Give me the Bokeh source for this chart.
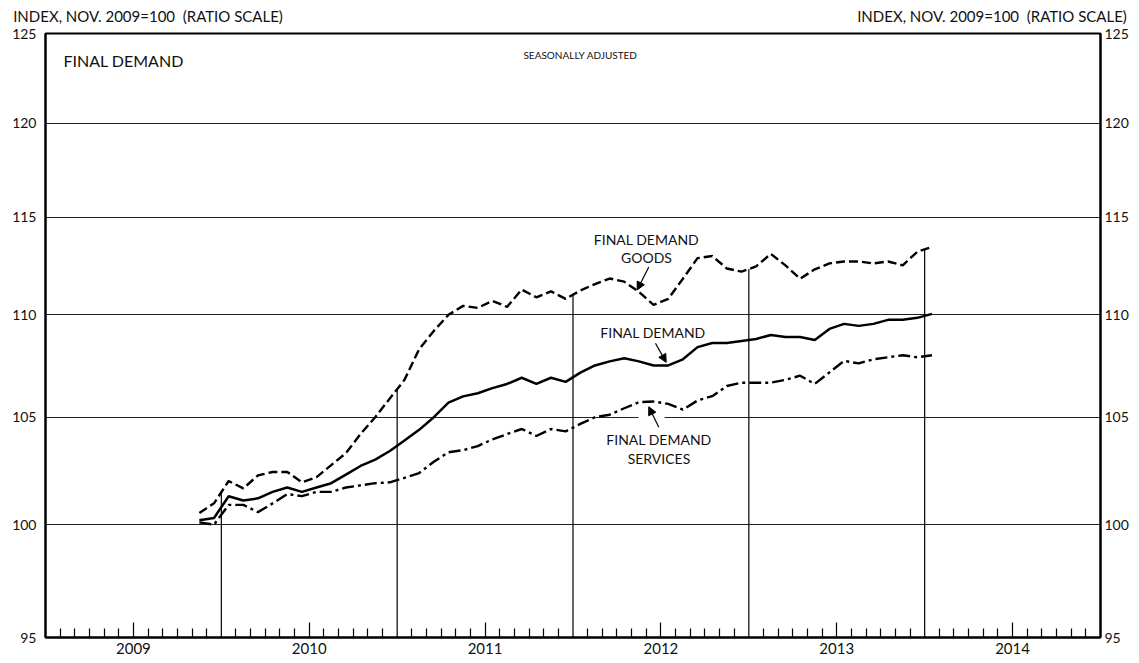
import numpy as np
import pandas as pd
from bokeh.plotting import figure
from bokeh.models import (LogAxis, LinearAxis, FixedTicker, PrintfTickFormatter, Label, Arrow,
                          NormalHead, Range1d)
from bokeh.embed import file_html
from bokeh.resources import INLINE

# ---------------- data ----------------
months = pd.date_range("2009-11-01", "2014-01-01", freq="MS")

final_demand = [100.2, 100.3,
                101.3, 101.1, 101.2, 101.5, 101.7, 101.5, 101.7, 101.9, 102.3, 102.7, 103.0, 103.4,
                103.9, 104.4, 105.0, 105.7, 106.0, 106.15, 106.4, 106.6, 106.9, 106.6, 106.9, 106.7,
                107.15, 107.5, 107.7, 107.85, 107.7, 107.5, 107.5, 107.8, 108.4, 108.6, 108.6, 108.7,
                108.8, 109.0, 108.9, 108.9, 108.75, 109.3, 109.55, 109.45, 109.55, 109.75, 109.75, 109.85,
                110.05]

goods = [100.53, 100.97,
         102.0, 101.66, 102.26, 102.42, 102.42, 101.94, 102.18, 102.74, 103.3, 104.2, 105.0, 105.9,
         106.8, 108.3, 109.2, 110.0, 110.45, 110.35, 110.7, 110.4, 111.27, 110.88, 111.18, 110.8,
         111.22, 111.55, 111.83, 111.67, 111.15, 110.5, 110.8, 111.82, 112.87, 112.98, 112.34, 112.18,
         112.45, 113.09, 112.5, 111.82, 112.3, 112.6, 112.7, 112.7, 112.6, 112.7, 112.5, 113.2,
         113.45]

services = [100.1, 100.0,
            100.9, 100.9, 100.57, 100.97, 101.4, 101.3, 101.5, 101.5, 101.7, 101.8, 101.9, 101.94,
            102.15, 102.37, 102.9, 103.34, 103.44, 103.63, 103.95, 104.2, 104.44, 104.11, 104.44, 104.33,
            104.68, 105.0, 105.12, 105.43, 105.72, 105.75, 105.64, 105.36, 105.8, 106.01, 106.5, 106.66,
            106.66, 106.66, 106.8, 107.0, 106.6, 107.16, 107.72, 107.6, 107.8, 107.9, 108.0, 107.9,
            108.0]

y_ticks = [95, 100, 105, 110, 115, 120, 125]
grid_levels = [100, 105, 110, 115, 120]
years = [2009, 2010, 2011, 2012, 2013, 2014]
drop_years = [2010, 2011, 2012, 2013, 2014]
header_text = "INDEX, NOV. 2009=100\u00a0 (RATIO SCALE)"
header_pos = [2009.583, 2014.383]   # centres of the two scale captions (years)

FONT = "Lato"

x = np.array(months.year + (months.month - 0.5) / 12.0)

p = figure(width=1139, height=663, x_range=Range1d(2009, 2015), y_range=Range1d(95, 125),
           y_axis_type="log", output_backend="svg", toolbar_location=None,
           min_border_left=45, min_border_right=39, min_border_top=33, min_border_bottom=26)
p.background_fill_color = "white"
p.border_fill_color = "white"
p.outline_line_color = "black"
p.outline_line_width = 2

bottom_axis = p.below[0]
left_axis = p.left[0]

def style_y(ax, standoff):
    ax.ticker = FixedTicker(ticks=y_ticks, minor_ticks=[])
    ax.formatter = PrintfTickFormatter(format="%d")
    ax.major_tick_in = 0
    ax.major_tick_out = 0
    ax.minor_tick_in = 0
    ax.minor_tick_out = 0
    ax.axis_line_width = 2
    ax.axis_line_color = "black"
    ax.major_label_standoff = standoff
    ax.major_label_text_font = FONT
    ax.major_label_text_font_size = "14px"
    ax.major_label_text_color = "#111111"

style_y(left_axis, 9)
right_axis = LogAxis()
style_y(right_axis, 4)
p.add_layout(right_axis, "right")

# bottom axis: month ticks, taller mid-year tick, year names
mid_years = [y + 0.5 for y in years]
month_ticks = [y + k / 12.0 for y in years for k in range(1, 12) if k != 6]
xa = bottom_axis
xa.ticker = FixedTicker(ticks=mid_years, minor_ticks=month_ticks)
xa.major_label_overrides = {m: str(y) for m, y in zip(mid_years, years)}
xa.major_tick_in = 15
xa.major_tick_out = 0
xa.minor_tick_in = 9
xa.minor_tick_out = 0
xa.major_tick_line_width = 1.2
xa.minor_tick_line_width = 1.2
xa.major_tick_line_color = "black"
xa.minor_tick_line_color = "black"
xa.axis_line_width = 2
xa.axis_line_color = "black"
xa.major_label_text_font = FONT
xa.major_label_text_font_size = "15px"
xa.major_label_text_color = "#111111"
xa.major_label_standoff = 5

# top: scale captions carried as labels of an axis above the frame
top_axis = LinearAxis()
top_axis.ticker = FixedTicker(ticks=header_pos, minor_ticks=[])
top_axis.major_label_overrides = {hp: header_text for hp in header_pos}
top_axis.major_tick_in = 0
top_axis.major_tick_out = 0
top_axis.minor_tick_in = 0
top_axis.minor_tick_out = 0
top_axis.axis_line_color = None
top_axis.major_label_standoff = 9
top_axis.major_label_text_font = FONT
top_axis.major_label_text_font_size = "15px"
top_axis.major_label_text_color = "#111111"
p.add_layout(top_axis, "above")

p.xgrid.visible = False
p.ygrid[0].ticker = FixedTicker(ticks=grid_levels)
p.ygrid[0].grid_line_color = "#222222"
p.ygrid[0].grid_line_width = 1

# white gap in 105 line behind services arrow
p.segment(x0=[2012.373], y0=[105], x1=[2012.521], y1=[105], line_color="white", line_width=4)

# drop lines from goods series at year boundaries
drop_top = np.interp(drop_years, x, goods)
p.segment(x0=drop_years, y0=[95] * len(drop_years), x1=drop_years, y1=drop_top,
          line_color="black", line_width=1.2)

# ---------------- series ----------------
p.line(x, goods, line_color="black", line_width=2.4, line_dash="9 4")
p.line(x, final_demand, line_color="black", line_width=2.5)
p.line(x, services, line_color="black", line_width=2.4, line_dash="12 4 3 4")

# ---------------- texts ----------------
def lab(x_, y_, text, size, align="center", baseline="middle"):
    p.add_layout(Label(x=x_, y=y_, text=text, text_font=FONT, text_font_size=size,
                       text_align=align, text_baseline=baseline, text_color="#111111"))

lab(2009.102, 123.45, "FINAL DEMAND", "16px", align="left")
lab(2012.043, 123.78, "SEASONALLY ADJUSTED", "10px")

lab(2012.418, 113.84, "FINAL DEMAND", "14px")
lab(2012.418, 112.90, "GOODS", "14px")
lab(2012.455, 109.10, "FINAL DEMAND", "14px")
lab(2012.489, 103.94, "FINAL DEMAND", "14px")
lab(2012.489, 103.07, "SERVICES", "14px")

def arrow(x0, y0, x1, y1):
    p.add_layout(Arrow(end=NormalHead(size=8, fill_color="black", line_color="black"),
                       x_start=x0, y_start=y0, x_end=x1, y_end=y1,
                       line_color="black", line_width=1.2))

arrow(2012.431, 112.42, 2012.365, 111.25)
arrow(2012.469, 108.59, 2012.530, 107.65)
arrow(2012.488, 104.52, 2012.431, 105.50)

open("out.html", "w").write(file_html(p, INLINE))
